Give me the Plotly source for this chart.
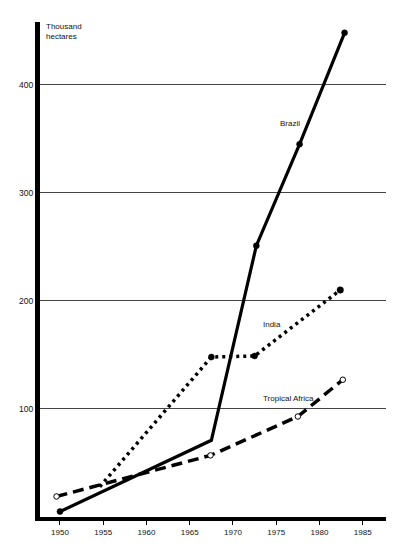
import plotly.graph_objects as go

# Data
brazil_years = [1950.0, 1967.5, 1972.7, 1977.7, 1982.9]
brazil_vals = [5, 71, 251, 345, 448]

india_years = [1954.6, 1967.5, 1972.5, 1982.4]
india_vals = [28, 148, 149, 210]

africa_years = [1949.6, 1967.4, 1977.5, 1982.7]
africa_vals = [19, 57, 93, 127]

x_ticks = [1950, 1955, 1960, 1965, 1970, 1975, 1980, 1985]
y_ticks = [100, 200, 300, 400]

fig = go.Figure()

fig.add_trace(go.Scatter(
    x=africa_years, y=africa_vals, mode="lines+markers",
    line=dict(color="black", width=3.5, dash="11px,6px"),
    marker=dict(symbol="circle", size=5.5, color="white", opacity=1,
                line=dict(color="black", width=1)),
    hoverinfo="skip", showlegend=False))

fig.add_trace(go.Scatter(
    x=india_years, y=india_vals, mode="lines+markers",
    line=dict(color="black", width=3.5, dash="3px,4px"),
    marker=dict(symbol="circle", size=[0, 6, 6, 6.5], color="black", opacity=1,
                line=dict(color="black", width=0.5)),
    hoverinfo="skip", showlegend=False))

fig.add_trace(go.Scatter(
    x=brazil_years, y=brazil_vals, mode="lines+markers",
    line=dict(color="black", width=3.2),
    marker=dict(symbol="circle", size=[6, 0, 6, 6, 6], color="black", opacity=1,
                line=dict(color="black", width=0.5)),
    hoverinfo="skip", showlegend=False))

label_font = dict(family="Liberation Sans, Arial, sans-serif", size=8, color="#111")

fig.add_annotation(x=1976.6, y=364, text="Brazil", showarrow=False, font=label_font)
fig.add_annotation(x=1974.5, y=178, text="India", showarrow=False, font=label_font)
fig.add_annotation(x=1976.4, y=110, text="Tropical Africa", showarrow=False, font=label_font)
fig.add_annotation(xref="paper", yref="paper", x=0.0, y=1.0, xanchor="left", yanchor="top",
                   xshift=4, yshift=2, align="left",
                   text="Thousand<br>hectares", showarrow=False, font=label_font)

fig.update_layout(
    width=384, height=535,
    margin=dict(l=32, r=6, t=14, b=23),
    paper_bgcolor="white", plot_bgcolor="white",
    xaxis=dict(
        range=[1947.69, 1987.69], tickvals=x_ticks, ticktext=[str(v) for v in x_ticks],
        showgrid=False, zeroline=False, showline=True, linecolor="black", linewidth=4,
        ticks="outside", ticklen=4, tickwidth=1, tickcolor="black",
        tickfont=dict(family="Liberation Sans Narrow, Arial Narrow, sans-serif", size=8, color="#111"),
    ),
    yaxis=dict(
        range=[0, 458], tickvals=y_ticks, ticktext=[str(v) for v in y_ticks],
        showgrid=True, gridcolor="#444", gridwidth=1, zeroline=False,
        showline=True, linecolor="black", linewidth=5, ticks="",
        tickfont=dict(family="Liberation Sans, Arial, sans-serif", size=8.5, color="#111"),
    ),
)

fig.write_html("out.html")
